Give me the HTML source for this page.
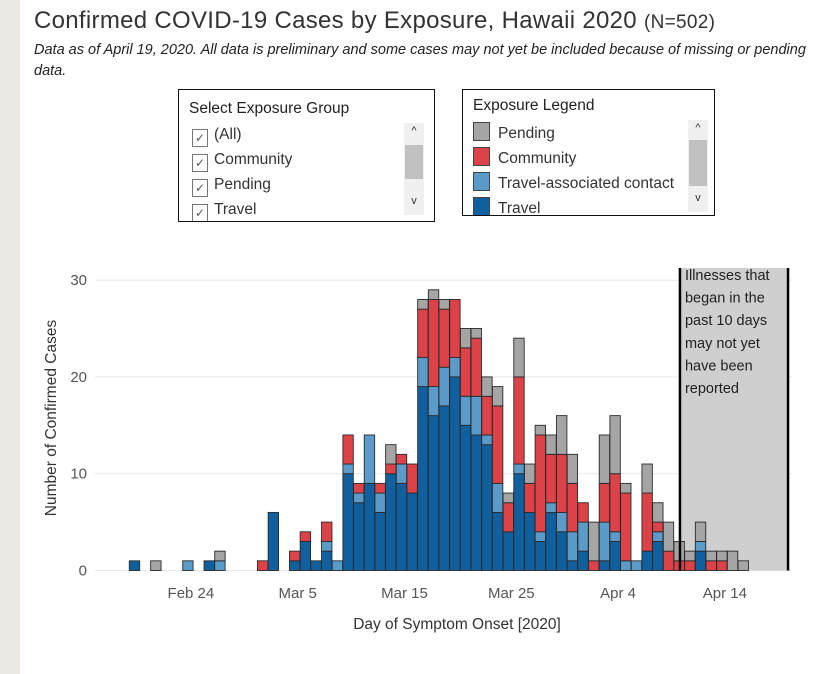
<!DOCTYPE html>
<html><head><meta charset="utf-8">
<style>
body{margin:0;width:838px;height:674px;background:#fff;overflow:hidden;font-family:"Liberation Sans Narrow","Liberation Sans",sans-serif;color:#333;position:relative}
.strip{position:absolute;left:0;top:0;width:20px;height:674px;background:#ece9e4}
.title{position:absolute;left:34px;top:7px;font-size:24px;color:#333;white-space:nowrap;letter-spacing:0.3px}
.title small{font-size:19px}
.sub{position:absolute;left:34px;top:40px;width:790px;font-size:14.5px;font-style:italic;line-height:21px;color:#222}
.box{position:absolute;border:1px solid #111;background:#fff;overflow:hidden}
.box h4{margin:0;font-weight:normal;font-size:15.5px;position:absolute;left:10px;color:#222}
.item{position:absolute;font-size:15.5px;color:#333;white-space:nowrap}
.cb{display:inline-block;width:14px;height:16px;border:1px solid #777;vertical-align:-3px;margin-right:6px;font-size:12px;line-height:16px;text-align:center;color:#555}
.sw{display:inline-block;width:15px;height:17px;border:1px solid #444;vertical-align:-3px;margin-right:8px}
.sb{position:absolute;width:20px;background:#f0f0f0}
.sb .thumb{position:absolute;left:1px;width:18px;background:#c1c1c1}
.sb .ar{position:absolute;left:0;width:20px;text-align:center;font-size:11px;color:#333}
</style></head><body>
<div class="strip"></div>
<div class="title">Confirmed COVID-19 Cases by Exposure, Hawaii 2020 <small>(N=502)</small></div>
<div class="sub">Data as of April 19, 2020. All data is preliminary and some cases may not yet be included because of missing or pending data.</div>

<div class="box" style="left:178px;top:89px;width:255px;height:131px">
 <h4 style="top:10px">Select Exposure Group</h4>
 <div class="item" style="left:13px;top:36px"><span class="cb">✓</span>(All)</div>
 <div class="item" style="left:13px;top:61px"><span class="cb">✓</span>Community</div>
 <div class="item" style="left:13px;top:86px"><span class="cb">✓</span>Pending</div>
 <div class="item" style="left:13px;top:111px"><span class="cb">✓</span>Travel</div>
 <div class="sb" style="left:225px;top:33px;height:92px"><div class="ar" style="top:2px">^</div><div class="thumb" style="top:22px;height:34px"></div><div class="ar" style="top:72px">v</div></div>
</div>

<div class="box" style="left:462px;top:89px;width:251px;height:125px">
 <h4 style="top:7px">Exposure Legend</h4>
 <div class="item" style="left:10px;top:32px"><span class="sw" style="background:#a5a5a5"></span>Pending</div>
 <div class="item" style="left:10px;top:57px"><span class="sw" style="background:#dc4248"></span>Community</div>
 <div class="item" style="left:10px;top:82px"><span class="sw" style="background:#5b9bc9"></span>Travel-associated contact</div>
 <div class="item" style="left:10px;top:107px"><span class="sw" style="background:#10609f"></span>Travel</div>
 <div class="sb" style="left:225px;top:30px;height:92px"><div class="ar" style="top:2px">^</div><div class="thumb" style="top:20px;height:46px"></div><div class="ar" style="top:72px">v</div></div>
</div>

<svg id="chart" width="838" height="674" style="position:absolute;left:0;top:0"></svg>
<script>
const days=[];for(let i=0;i<58;i++)days.push(i);
const travel=[1,0,0,0,0,0,0,1,0,0,0,0,0,6,0,1,3,1,2,0,10,7,9,6,10,9,8,19,16,17,20,15,14,13,6,4,10,6,3,6,4,1,2,0,1,3,0,0,2,3,0,0,0,2,0,0,0,0];
const travelContact=[0,0,0,0,0,1,0,0,1,0,0,0,0,0,0,0,0,0,1,1,1,1,5,2,0,2,0,3,3,4,2,3,4,1,3,0,1,0,1,1,2,3,3,0,4,1,1,1,0,1,0,0,0,1,0,0,0,0];
const community=[0,0,0,0,0,0,0,0,0,0,0,0,1,0,0,1,1,0,2,0,3,1,0,1,1,1,3,5,9,6,6,5,6,4,8,3,9,3,10,5,6,5,2,1,4,6,7,0,6,1,2,1,1,0,1,1,0,0];
const pending=[0,0,1,0,0,0,0,0,1,0,0,0,0,0,0,0,0,0,0,0,0,0,0,0,2,0,0,1,1,1,0,2,1,2,2,1,4,2,1,2,4,3,0,4,5,6,1,0,3,2,3,2,1,2,1,1,2,1];
const yTicks=[0,10,20,30];
const xTickLabels=["Feb 24","Mar 5","Mar 15","Mar 25","Apr 4","Apr 14"];
const xTickDays=[5,15,25,35,45,55];
const shadeStartDay=51.56, shadeEndDay=61.68;
const NS="http://www.w3.org/2000/svg";
const svg=document.getElementById('chart');
const x=d=>134.5+d*10.68;
const y=v=>570.5-v*9.68;
const bw=10.4;
function el(t,a){const e=document.createElementNS(NS,t);for(const k in a)e.setAttribute(k,a[k]);svg.appendChild(e);return e;}
yTicks.forEach(t=>{const g=el('line',{x1:95,x2:792,y1:y(t),y2:y(t),stroke:'#e8e8e8','stroke-width':1});


const l=el('text',{x:87,y:y(t)+5,'text-anchor':'end','font-size':15,fill:'#555','font-family':'Liberation Sans Narrow, Liberation Sans, sans-serif'});l.textContent=t;

});
const sx0=x(shadeStartDay)-bw/2, sx1=x(shadeEndDay)-bw/2;
const sh=el('rect',{x:sx0,y:268,width:sx1-sx0,height:y(0)-268,fill:'#cfcfcf'});


const series=[[travel,'#10609f','travel'],[travelContact,'#5b9bc9','travel-contact'],[community,'#dc4248','community'],[pending,'#a5a5a5','pending']];
days.forEach((d,i)=>{let base=0;series.forEach(([arr,c,n])=>{const v=arr[i];if(v>0){const r=el('rect',{x:x(d)-bw/2,y:y(base+v),width:bw,height:y(base)-y(base+v),fill:c,stroke:'#2a2a2a','stroke-width':0.9});

}base+=v;});});
[sx0,sx1].forEach((xx,k)=>{const ln=el('line',{x1:xx,x2:xx,y1:268,y2:y(0),stroke:'#000','stroke-width':2.5});

});
const lines=["Illnesses that","began in the","past 10 days","may not yet","have been","reported"];
lines.forEach((s,i)=>{const t=el('text',{x:sx0+5,y:280+i*22.6,'font-size':14.5,fill:'#222','font-family':'Liberation Sans Narrow, Liberation Sans, sans-serif'});t.textContent=s;

});
xTickLabels.forEach((s,i)=>{const t=el('text',{x:x(xTickDays[i])+3,y:598,'text-anchor':'middle','font-size':15,fill:'#555','font-family':'Liberation Sans Narrow, Liberation Sans, sans-serif'});t.textContent=s;

});
const xt=el('text',{x:457,y:629,'text-anchor':'middle','font-size':15.5,fill:'#333','font-family':'Liberation Sans Narrow, Liberation Sans, sans-serif'});xt.textContent='Day of Symptom Onset [2020]';


const yt=el('text',{x:0,y:0,'text-anchor':'middle','font-size':15.5,fill:'#333',transform:'translate(56,418) rotate(-90)','font-family':'Liberation Sans Narrow, Liberation Sans, sans-serif'});yt.textContent='Number of Confirmed Cases';


</script>
</body></html>
